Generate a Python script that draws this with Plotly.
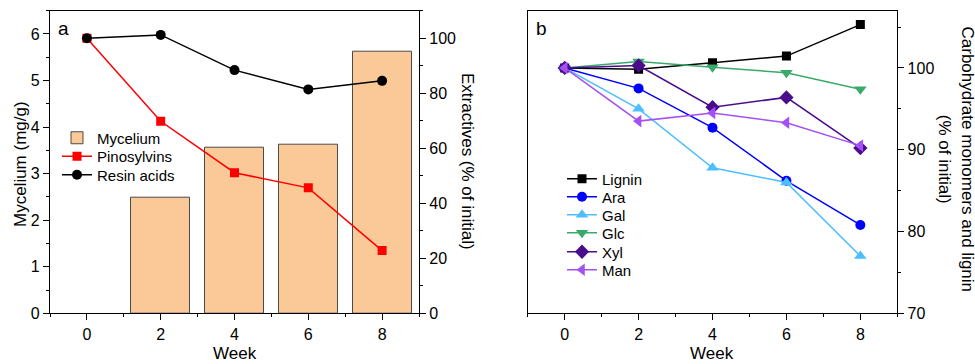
import plotly.graph_objects as go

weeks = [0, 2, 4, 6, 8]
mycelium = [None, 2.48, 3.56, 3.63, 5.61]
pinosylvins = [100, 69.8, 51.1, 45.6, 22.8]
resin_acids = [100, 101.2, 88.4, 81.4, 84.5]

lignin = [100, 99.85, 100.65, 101.45, 105.3]
ara = [100, 97.5, 92.7, 86.2, 80.8]
gal = [100, 95.0, 87.8, 86.0, 77.0]
glc = [100, 100.8, 100.1, 99.4, 97.4]
xyl = [100, 100.3, 95.2, 96.4, 90.2]
man = [100, 93.5, 94.5, 93.3, 90.5]

W, H = 975, 364
FONT = "Liberation Sans, Arial, sans-serif"

fig = go.Figure()

# legend placement: (legend name, x of legend left px, y of item centre px)
leg_pos = {}

fig.add_trace(go.Bar(x=weeks, y=mycelium, name="Mycelium", width=1.6,
                     marker=dict(color="#FBC898", line=dict(color="#4a4a4a", width=1)),
                     xaxis="x", yaxis="y", legend="legend"))
fig.add_trace(go.Scatter(x=weeks, y=pinosylvins, name="Pinosylvins", mode="lines+markers",
                         line=dict(color="#FF0000", width=1.5),
                         marker=dict(symbol="square", size=9, color="#FF0000"),
                         xaxis="x", yaxis="y2", legend="legend2"))
fig.add_trace(go.Scatter(x=weeks, y=resin_acids, name="Resin acids", mode="lines+markers",
                         line=dict(color="#000000", width=1.5),
                         marker=dict(symbol="circle", size=10, color="#000000"),
                         xaxis="x", yaxis="y2", legend="legend3"))
leg_pos["legend"] = (57, 138)
leg_pos["legend2"] = (57, 156.5)
leg_pos["legend3"] = (57, 175)

series_b = [
    ("Lignin", lignin, "#000000", "square", 9),
    ("Ara", ara, "#0000FF", "circle", 10),
    ("Gal", gal, "#4DBEFF", "triangle-up", 11),
    ("Glc", glc, "#3AAA6A", "triangle-down", 11),
    ("Xyl", xyl, "#4B0C8C", "diamond", 11),
    ("Man", man, "#A550F5", "triangle-left", 11),
]
b_y = [179, 197, 215, 233, 252, 270]
for i, (name, vals, col, sym, sz) in enumerate(series_b):
    lg = "legend%d" % (4 + i)
    leg_pos[lg] = (562, b_y[i])
    fig.add_trace(go.Scatter(x=weeks, y=vals, name=name, mode="lines+markers",
                             line=dict(color=col, width=1.5),
                             marker=dict(symbol=sym, size=sz, color=col),
                             xaxis="x2", yaxis="y3", legend=lg))

ydom = [(H - 313.3) / H, (H - 10.7) / H]
tickfont = dict(family=FONT, size=16, color="#000")
axcommon = dict(showgrid=False, zeroline=False, showline=True, linecolor="#000", linewidth=1.2,
                ticks="outside", ticklen=6, tickwidth=1.2, tickcolor="#000", tickfont=tickfont,
                automargin=False)
minor_common = dict(ticks="outside", ticklen=3, tickcolor="#000", tickwidth=1.2, showgrid=False)

legends = {}
for lg, (lx, ly) in leg_pos.items():
    legends[lg] = dict(x=lx / W, y=1 - ly / H, xanchor="left", yanchor="middle",
                       bgcolor="rgba(0,0,0,0)", font=dict(family=FONT, size=15, color="#000"),
                       itemwidth=30, itemclick=False, itemdoubleclick=False)

fig.update_layout(
    template="none",
    width=W, height=H, margin=dict(l=0, r=0, t=0, b=0, autoexpand=False),
    paper_bgcolor="white", plot_bgcolor="white",
    font=dict(family=FONT, color="#000"),
    showlegend=True, bargap=0,
    xaxis=dict(domain=[50 / W, 419 / W], range=[-1, 9], tick0=0, dtick=2, mirror=True,
               minor=dict(dtick=1, tick0=1, **minor_common),
               anchor="y", **axcommon),
    yaxis=dict(domain=ydom, range=[0, 6.5], dtick=1, anchor="x",
               minor=dict(dtick=0.5, **minor_common), **axcommon),
    yaxis2=dict(range=[0, 110], dtick=20, overlaying="y", side="right", anchor="x",
                minor=dict(dtick=10, **minor_common), **axcommon),
    xaxis2=dict(domain=[527.7 / W, 897.3 / W], range=[-1, 9], tick0=0, dtick=2, mirror=True,
                minor=dict(dtick=1, tick0=1, **minor_common),
                anchor="y3", **axcommon),
    yaxis3=dict(domain=ydom, range=[70, 107], tick0=70, dtick=10, side="right", anchor="x2",
                mirror=True,
                minor=dict(dtick=5, tick0=70, **minor_common), **axcommon),
    **legends,
)

ann = dict(xref="paper", yref="paper", showarrow=False, xanchor="center", yanchor="middle",
           font=dict(family=FONT, size=17, color="#000"))
fig.add_annotation(text="Mycelium (mg/g)", x=21 / W, y=1 - 164 / H, textangle=-90, **ann)
fig.add_annotation(text="Extractives (% of initial)", x=468 / W, y=1 - 161 / H, textangle=90, **ann)
fig.add_annotation(text="Carbohydrate monomers and lignin<br>(% of initial)", x=956.5 / W, y=1 - 159 / H,
                   textangle=90, **ann)
fig.add_annotation(text="Week", x=235 / W, y=1 - 353 / H, **ann)
fig.add_annotation(text="Week", x=712 / W, y=1 - 353 / H, **ann)
fig.add_annotation(text="a", x=63 / W, y=1 - 29 / H, xref="paper", yref="paper", showarrow=False,
                   xanchor="center", yanchor="middle", font=dict(family=FONT, size=19, color="#000"))
fig.add_annotation(text="b", x=541 / W, y=1 - 29 / H, xref="paper", yref="paper", showarrow=False,
                   xanchor="center", yanchor="middle", font=dict(family=FONT, size=19, color="#000"))

fig.write_html("out.html", config={"displayModeBar": False},
               post_script="document.body.style.margin='0';document.body.style.overflow='hidden';")
